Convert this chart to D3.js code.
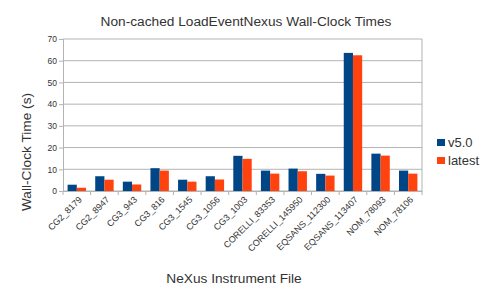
<!DOCTYPE html>
<html>
<head>
<meta charset="utf-8">
<script src="https://cdn.jsdelivr.net/npm/d3@7"></script>
<style>
  body { margin: 0; background: #fff; }
  text { font-family: "Liberation Sans", Arial, sans-serif; }
</style>
</head>
<body>
<div id="chart"></div>
<script>
const files = ["CG2_8179", "CG2_8947", "CG3_943", "CG3_816", "CG3_1545", "CG3_1056", "CG3_1003",
  "CORELLI_83353", "CORELLI_145950", "EQSANS_112300", "EQSANS_113407", "NOM_78093", "NOM_78106"];
const v50 = [2.9, 6.8, 4.3, 10.5, 5.2, 6.8, 16.2, 9.4, 10.3, 7.9, 63.6, 17.2, 9.4];
const latest = [1.5, 5.2, 3.0, 9.4, 4.3, 5.3, 14.8, 8.0, 9.1, 7.1, 62.5, 16.3, 8.0];
const yTicks = [0, 10, 20, 30, 40, 50, 60, 70];
const seriesNames = ["v5.0", "latest"];
const colors = ["#004586", "#ff420e"];

const W = 492, H = 302;
const margin = { top: 39, right: 70, bottom: 111, left: 63 };
const width = W - margin.left - margin.right;
const height = H - margin.top - margin.bottom;

const svg = d3.select("#chart").append("svg")
  .attr("width", W).attr("height", H);

const g = svg.append("g")
  .attr("transform", `translate(${margin.left},${margin.top})`);

const x = d3.scaleBand().domain(files).range([0, width]);
const x1 = d3.scaleBand().domain(seriesNames).range([0, x.bandwidth()]).paddingOuter(0.5);
const y = d3.scaleLinear().domain([0, 70]).range([height, 0]);

// gridlines
g.selectAll(".grid").data(yTicks).enter().append("line")
  .attr("x1", 0).attr("x2", width)
  .attr("y1", d => y(d)).attr("y2", d => y(d))
  .attr("stroke", "#b3b3b3").attr("stroke-width", 1);

// right border of plot area
g.append("line").attr("x1", width).attr("x2", width).attr("y1", 0).attr("y2", height)
  .attr("stroke", "#b3b3b3");

// bars
const rows = files.map((f, i) => ({ f, vals: [v50[i], latest[i]] }));
g.selectAll(".cat").data(rows).enter().append("g")
  .attr("transform", d => `translate(${x(d.f)},0)`)
  .selectAll("rect").data(d => d.vals.map((v, k) => ({ k, v }))).enter().append("rect")
  .attr("x", d => x1(seriesNames[d.k]))
  .attr("width", x1.bandwidth())
  .attr("y", d => y(d.v))
  .attr("height", d => height - y(d.v))
  .attr("fill", d => colors[d.k]);

// y axis
const yAxis = g.append("g")
  .call(d3.axisLeft(y).tickValues(yTicks).tickSize(4).tickPadding(2));
yAxis.select(".domain").attr("stroke", "#b3b3b3");
yAxis.selectAll(".tick line").attr("stroke", "#b3b3b3");
yAxis.selectAll("text").attr("font-size", 8.5).attr("fill", "#333");

// x axis
const xAxis = g.append("g").attr("transform", `translate(0,${height})`)
  .call(d3.axisBottom(x).tickSize(0));
xAxis.select(".domain").attr("stroke", "#b3b3b3");
xAxis.selectAll("text")
  .attr("font-size", 9).attr("fill", "#333")
  .style("text-anchor", "end")
  .attr("dx", "-0.2em").attr("dy", "0.6em")
  .attr("transform", "translate(1,2) rotate(-45)");
// tick marks between categories
g.selectAll(".xtick").data(files.map((f, i) => i).concat([files.length])).enter().append("line")
  .attr("x1", i => i * x.step()).attr("x2", i => i * x.step())
  .attr("y1", height).attr("y2", height + 4)
  .attr("stroke", "#b3b3b3");

// titles
svg.append("text").attr("x", 246).attr("y", 26).attr("text-anchor", "middle")
  .attr("font-size", 13.7).attr("fill", "#333")
  .text("Non-cached LoadEventNexus Wall-Clock Times");
svg.append("text").attr("transform", "translate(31,152) rotate(-90)")
  .attr("text-anchor", "middle").attr("font-size", 13.7).attr("fill", "#333")
  .text("Wall-Clock Time (s)");
svg.append("text").attr("x", 234).attr("y", 283).attr("text-anchor", "middle")
  .attr("font-size", 13.7).attr("fill", "#333")
  .text("NeXus Instrument File");

// legend
const legend = svg.append("g").attr("transform", "translate(437,139)");
seriesNames.forEach((s, k) => {
  legend.append("rect").attr("x", 0).attr("y", k * 18).attr("width", 8).attr("height", 7)
    .attr("fill", colors[k]);
  legend.append("text").attr("x", 11).attr("y", k * 18 + 7.5)
    .attr("font-size", 13).attr("fill", "#333").text(s);
});
</script>
</body>
</html>
